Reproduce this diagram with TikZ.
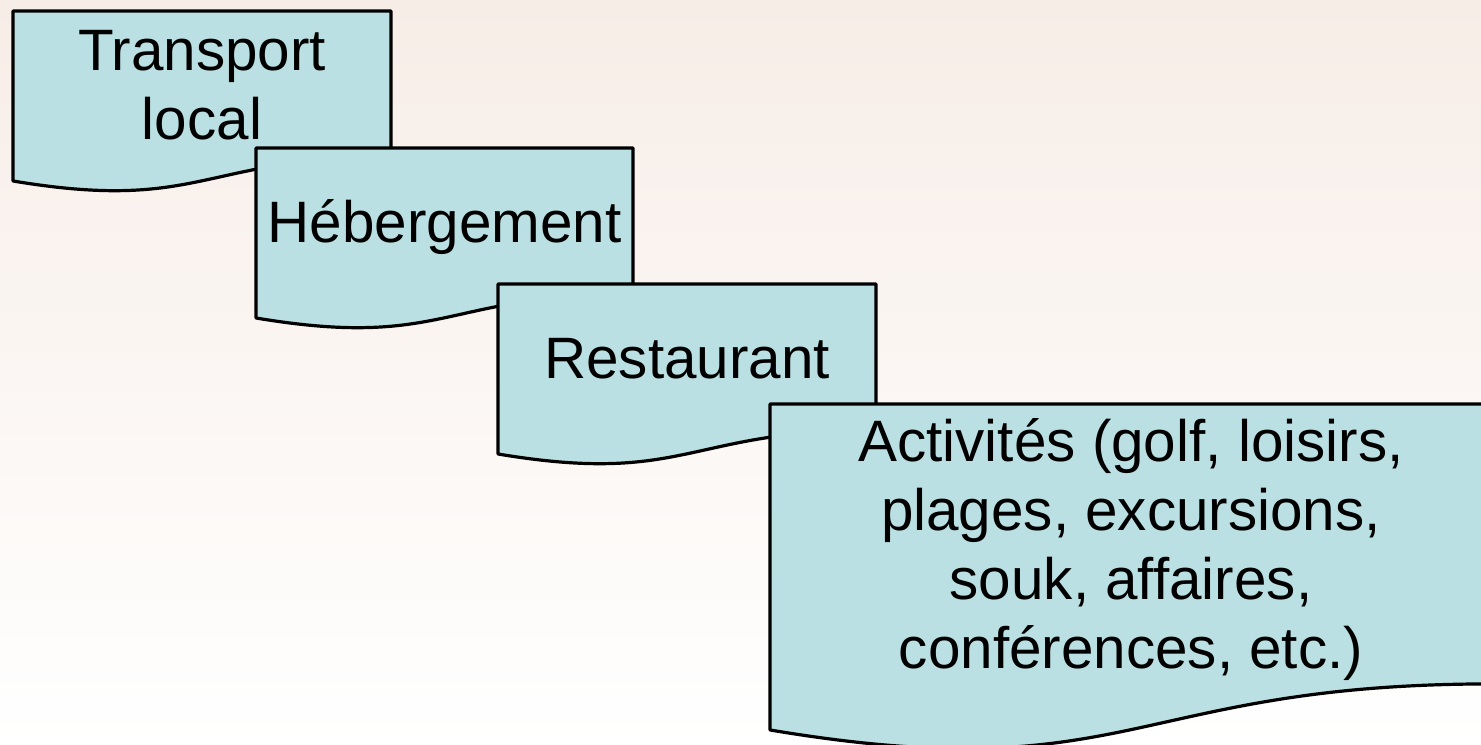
\documentclass[tikz,border=0pt]{standalone}
\usepackage{fontspec}
\setmainfont{Liberation Sans}
\definecolor{docfill}{HTML}{BAE0E3}
\definecolor{bgtop}{HTML}{F7EDE7}
\tikzset{
	docbox/.style={draw=black,fill=docfill,line width=1.6pt,line join=round},
	doctext/.style={font=\fontsize{29.2}{34.5}\selectfont,align=center,inner sep=0pt,anchor=base}
}
% document shape: left, top, width, height
\newcommand{\docshape}[4]{%
	\draw[docbox] (#1,#2)--({#1+#3},#2)--({#1+#3},{#2+0.802*#4})
		.. controls ({#1+0.5*#3},{#2+0.802*#4}) and ({#1+0.5*#3},{#2+1.1075*#4}) .. (#1,{#2+0.934*#4})--cycle;}
\begin{document}
\begin{tikzpicture}[x=0.5pt,y=-0.5pt]
	\useasboundingbox (0,0) rectangle (1481,744);
	\clip (0,0) rectangle (1481,744);
	\shade[top color=bgtop,bottom color=white] (0,0) rectangle (1481,744);
	
	% base anchor = baseline of the last line
	\docshape{13}{11}{378}{182}
	\node[doctext](transport) at (202,139.5){Transport\\local};
	\docshape{256}{148}{377}{182}
	\node[doctext](hebergement) at (444.5,242){Hébergement};
	\docshape{498}{284}{378}{182}
	\node[doctext](restaurant) at (687,378){Restaurant};
	\docshape{770}{404}{722}{349}
	\node[doctext](activites) at (1131,668.5){Activités (golf, loisirs,\\plages, excursions,\\souk, affaires,\\conférences, etc.)};
	
\end{tikzpicture}
\end{document}
